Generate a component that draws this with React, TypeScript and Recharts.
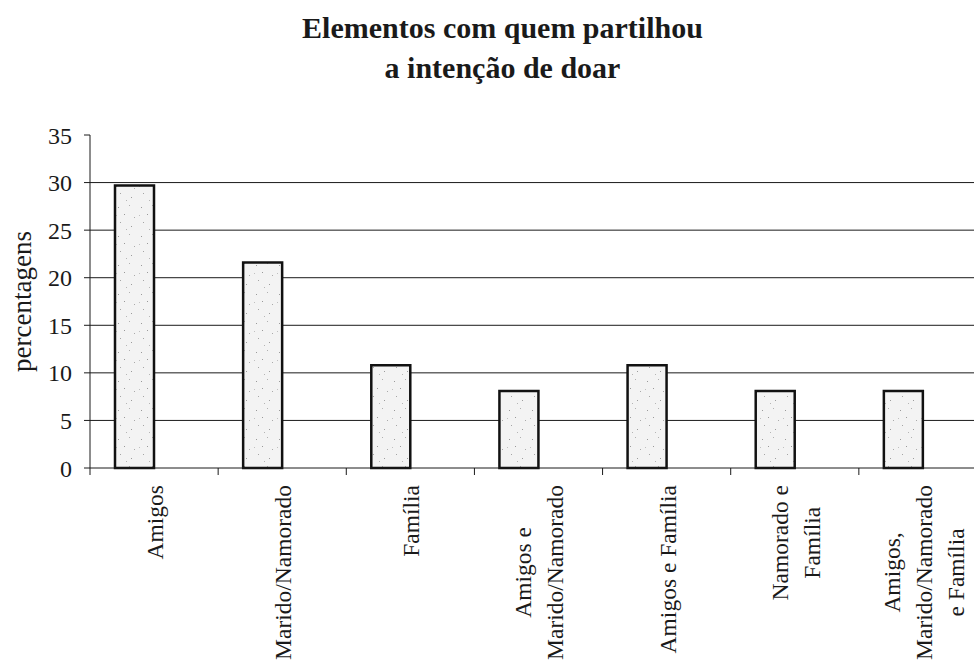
import { BarChart, Bar, XAxis, YAxis, CartesianGrid, Label } from 'recharts';

const categories = [
  'Amigos',
  'Marido/Namorado',
  'Família',
  'Amigos e\nMarido/Namorado',
  'Amigos e Família',
  'Namorado e\nFamília',
  'Amigos,\nMarido/Namorado\ne Família',
];
const percentages = [29.7, 21.6, 10.8, 8.1, 10.8, 8.1, 8.1];
const yTicks = [0, 5, 10, 15, 20, 25, 30, 35];
const gridValues = [5, 10, 15, 20, 25, 30];
const titleLines = ['Elementos com quem partilhou', 'a intenção de doar'];
const yLabel = 'percentagens';

const data = categories.map((name, i) => ({ name, value: percentages[i] }));

const CHART_W = 990;
const CHART_H = 666;
const Y_AXIS_W = 90;
const MARGIN = { top: 135, right: 3, bottom: 0, left: 0 };
const PLOT_W = CHART_W - Y_AXIS_W - MARGIN.left - MARGIN.right;
const BAND = PLOT_W / categories.length;

const SERIF = '"Liberation Serif", "Times New Roman", serif';
const X_FS = 23.5;
const LINE_H = 32;
const INK = '#1a1a1a';

let ctx: CanvasRenderingContext2D | null = null;
function textWidth(s: string) {
  if (!ctx) ctx = document.createElement('canvas').getContext('2d');
  if (!ctx) return s.length * X_FS * 0.45;
  ctx.font = `${X_FS}px ${SERIF}`;
  return ctx.measureText(s).width;
}

// rotated, centred multi-line category labels + tick marks at band edges
function CategoryTick(props: any) {
  const { x, y, payload } = props;
  const lines = String(payload.value).split('\n');
  const maxW = Math.max(...lines.map(textWidth));
  const cy = y + 17 + maxW / 2;
  const n = lines.length;
  return (
    <g>
      <line x1={x - BAND / 2} x2={x - BAND / 2} y1={y} y2={y + 7} stroke={INK} strokeWidth={1} />
      {lines.map((ln, i) => {
        const bx = x + (i - (n - 1) / 2) * LINE_H + X_FS * 0.38;
        return (
          <text
            key={i}
            transform={`translate(${bx},${cy}) rotate(-90)`}
            textAnchor='middle'
            fontFamily={SERIF}
            fontSize={X_FS}
            fill={INK}
          >
            {ln}
          </text>
        );
      })}
    </g>
  );
}

export default function App() {
  return (
    <div
      style={{
        position: 'absolute',
        left: 0,
        top: 0,
        width: 974,
        height: 666,
        overflow: 'hidden',
        background: '#fff',
      }}
    >
      {/* Title */}
      <div
        style={{
          position: 'absolute',
          left: 0,
          top: 8,
          width: 1005,
          textAlign: 'center',
          fontFamily: SERIF,
          fontWeight: 'bold',
          fontSize: 30,
          lineHeight: '40px',
          color: INK,
        }}
      >
        {titleLines.map((t) => (
          <div key={t}>{t}</div>
        ))}
      </div>

      <BarChart
        width={CHART_W}
        height={CHART_H}
        data={data}
        margin={MARGIN}
        barSize={39}
        barGap={0}
        style={{ position: 'absolute', left: 0, top: 0 }}
      >
        <defs>
          <pattern id='stipple' width='23' height='29' patternUnits='userSpaceOnUse'>
            <rect width='23' height='29' fill='#f3f3f3' />
            <rect x='3' y='4' width='1' height='1' fill='#9a9a9a' />
            <rect x='14' y='2' width='1' height='1' fill='#b0b0b0' />
            <rect x='9' y='11' width='1' height='1' fill='#999' />
            <rect x='19' y='14' width='1' height='1' fill='#aaa' />
            <rect x='5' y='19' width='1' height='1' fill='#a5a5a5' />
            <rect x='16' y='23' width='1' height='1' fill='#9c9c9c' />
            <rect x='11' y='26' width='1' height='1' fill='#b5b5b5' />
            <rect x='1' y='12' width='1' height='1' fill='#c0c0c0' />
          </pattern>
        </defs>

        <CartesianGrid vertical={false} horizontalValues={gridValues} stroke={INK} strokeWidth={1} />

        <XAxis
          dataKey='name'
          interval={0}
          height={198}
          tickLine={false}
          tickSize={0}
          tickMargin={0}
          axisLine={{ stroke: INK, strokeWidth: 1 }}
          tick={<CategoryTick />}
        />
        <YAxis
          width={Y_AXIS_W}
          domain={[0, 35]}
          ticks={yTicks}
          interval={0}
          tickSize={6}
          tickMargin={12}
          axisLine={{ stroke: INK, strokeWidth: 1 }}
          tickLine={{ stroke: INK, strokeWidth: 1 }}
          tick={{ fill: INK, fontFamily: SERIF, fontSize: 24 }}
        >
          <Label
            content={(p: any) => {
              const vb = p.viewBox || { x: 0, y: 135, height: 333 };
              const cy = vb.y + vb.height / 2;
              return (
                <text
                  transform={`translate(31,${cy}) rotate(-90)`}
                  textAnchor='middle'
                  fontFamily={SERIF}
                  fontSize={27}
                  fill={INK}
                >
                  {yLabel}
                </text>
              );
            }}
          />
        </YAxis>

        <Bar
          dataKey='value'
          fill='url(#stipple)'
          stroke='#111'
          strokeWidth={2.5}
          isAnimationActive={false}
        />
        {/* empty second series slot, as in the original layout */}
        <Bar dataKey='none' fill='none' isAnimationActive={false} />
      </BarChart>
    </div>
  );
}
